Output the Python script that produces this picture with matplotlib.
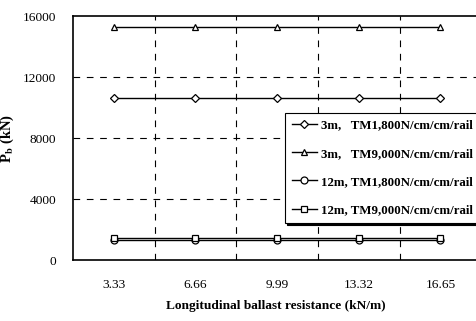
import matplotlib
matplotlib.use("Agg")
import matplotlib.pyplot as plt

plt.rcParams["font.family"] = ["Liberation Serif", "DejaVu Serif"]
plt.rcParams["mathtext.fontset"] = "stix"

resistance = ["3.33", "6.66", "9.99", "13.32", "16.65"]
pb_3m_tm1800 = [10650, 10650, 10650, 10650, 10650]
pb_3m_tm9000 = [15250, 15250, 15250, 15250, 15250]
pb_12m_tm1800 = [1300, 1300, 1300, 1300, 1300]
pb_12m_tm9000 = [1450, 1450, 1450, 1450, 1450]

series = [
    ("3m,   TM1,800N/cm/cm/rail", pb_3m_tm1800, "D", 4),
    ("3m,   TM9,000N/cm/cm/rail", pb_3m_tm9000, "^", 5),
    ("12m, TM1,800N/cm/cm/rail", pb_12m_tm1800, "o", 5),
    ("12m, TM9,000N/cm/cm/rail", pb_12m_tm9000, "s", 5),
]

fig = plt.figure(figsize=(4.76, 3.21), dpi=100)
ax = fig.add_axes([0.153, 0.19, 0.853, 0.76])

x = list(range(len(resistance)))
for label, vals, marker, ms in series:
    ax.plot(x, vals, color="black", linewidth=1.0, marker=marker, markersize=ms,
            markerfacecolor="white", markeredgecolor="black", markeredgewidth=0.9,
            label=label)

ax.set_xlim(-0.5, 4.47)
ax.set_ylim(0, 16000)
ax.set_xticks(x)
ax.set_xticklabels(resistance)
ax.set_yticks([0, 4000, 8000, 12000, 16000])
ax.tick_params(length=0, labelsize=9.6, pad=12)
ax.tick_params(axis="x", pad=14)

for xv in [0.5, 1.5, 2.5, 3.5]:
    ax.axvline(xv, color="black", linestyle=(0, (6, 6)), linewidth=0.8, zorder=0)
for yv in [4000, 8000, 12000]:
    ax.axhline(yv, color="black", linestyle=(0, (6, 6)), linewidth=0.8, zorder=0)

for side in ["left", "bottom", "top"]:
    ax.spines[side].set_linewidth(1.2)
ax.spines["right"].set_visible(False)

ax.set_xlabel("Longitudinal ballast resistance (kN/m)", fontsize=9.6,
              fontweight="bold", labelpad=6)
ax.set_ylabel(r"P$_\mathbf{b}$ (kN)", fontsize=10.5, fontweight="bold", labelpad=5)

leg = ax.legend(loc="upper left", bbox_to_anchor=(0.599, 0.648),
                bbox_transform=fig.transFigure, frameon=True,
                shadow={"color": "black", "alpha": 1.0, "ox": 1, "oy": -2},
                fancybox=False, handlelength=2.0, handletextpad=0.3,
                labelspacing=1.25, borderpad=0.5, borderaxespad=0,
                prop={"size": 9.3, "weight": "bold"})
leg.get_frame().set_edgecolor("black")
leg.get_frame().set_linewidth(0.8)

fig.savefig("out.png", dpi=100)
